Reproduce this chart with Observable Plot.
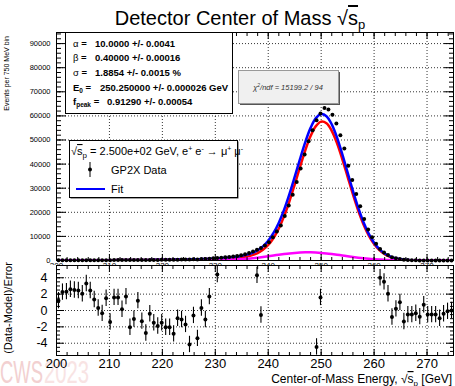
<!DOCTYPE html>
<html>
<head>
<meta charset="utf-8">
<script src="https://cdn.jsdelivr.net/npm/d3@7"></script>
<script src="https://cdn.jsdelivr.net/npm/@observablehq/plot@0.6"></script>
<style>
  body { margin: 0; background: #fff; }
  #wrap { position: relative; width: 455px; height: 386px; overflow: hidden; font-family: "Liberation Sans", Arial, sans-serif; background: #fff; }
  #wrap > svg, #wrap > .layer { position: absolute; left: 0; }
</style>
</head>
<body>
<div id="wrap"></div>
<script>
// ---------------- data ----------------
const binStart = 200;       // GeV
const binWidth = 0.75;      // GeV (750 MeV bins)

// events per bin (100 bins, 200 – 275 GeV)
const counts = [
  71, 84, 88, 96, 102, 109, 111, 130, 129, 125,
  122, 122, 151, 124, 170, 180, 171, 202, 160, 184,
  228, 203, 195, 246, 243, 250, 271, 280, 298, 302,
  361, 382, 398, 376, 487, 466, 598, 615, 753, 960,
  998, 1180, 1300, 1460, 1650, 1880, 2170, 2560, 3060, 3700,
  4413, 5237, 6200, 7600, 9600, 12000, 14500, 18500, 22800, 27300,
  32600, 38200, 44000, 49500, 54000, 58207, 60960, 63300, 62700, 60500,
  56800, 52000, 46500, 39300, 33400, 27600, 22500, 17200, 12900, 9600,
  6900, 4753, 3316, 2246, 1400, 921, 612, 351, 224, 131,
  80, 46, 34, 15, 8, 5, 2, 2, 1, 0
];

// (Data-Model)/Error per bin; null = outside the drawn range
const residuals = [
  1.2, 2.25, 2.3, 2.6, 2.5, 2.45, 2.05, 3.3, 2.45, 1.35,
  0.3, -0.35, 1.5, -1.4, 1.6, 1.6, 0.15, 1.7, -2.05, -1.05,
  1.2, -1.3, -2.75, -0.4, -1.5, -1.9, -1.5, -2.05, -2.05, -2.85,
  -0.95, -1.1, -1.7, -4.15, -0.6, -3.4, 0.3, -1.1, 1.7, null,
  4.4, null, null, null, null, null, null, null, null, null,
  4.3, -0.55, null, null, null, null, null, null, null, null,
  null, null, null, null, null, -4.45, 1.6, null, null, null,
  null, null, null, null, null, null, null, null, null, null,
  null, 4.0, 3.5, 2.05, -0.8, 0.2, 1.0, -1.35, -0.5, -0.5,
  -0.33, -0.75, 0.7, -0.5, -0.5, -0.5, -0.95, -0.4, -0.1, 0.0
];

// fit curves sampled every 1 GeV from 200 to 275
const fitEnergy = [
  200,201,202,203,204,205,206,207,208,209,
  210,211,212,213,214,215,216,217,218,219,
  220,221,222,223,224,225,226,227,228,229,
  230,231,232,233,234,235,236,237,238,239,
  240,241,242,243,244,245,246,247,248,249,
  250,251,252,253,254,255,256,257,258,259,
  260,261,262,263,264,265,266,267,268,269,
  270,271,272,273,274,275
];
const fitPeak = [   // red: main peak component
  60,65,70,77,85,92,100,110,120,130,
  140,152,165,177,190,205,220,240,260,280,
  300,325,350,380,410,450,490,540,590,655,
  726,804,893,1003,1154,1371,1704,2240,3085,4415,
  6429,9345,13306,18406,24573,31529,38802,45746,51634,55763,
  57619,56938,53805,48619,42008,34716,27429,20719,14964,10333,
  6820,4307,2599,1499,828,437,220,106,49,22,
  9,4,2,1,0,0
];
const fitSecondary = [   // magenta: secondary component
  0,0,0,0,0,0,0,0,0,0,
  0,0,0,0,0,0,0,0,0,0,
  0,1,2,4,6,10,17,27,42,64,
  96,142,207,293,406,550,728,941,1188,1465,
  1765,2078,2390,2685,2948,3161,3312,3390,3390,3312,
  3161,2948,2685,2390,2078,1765,1465,1188,941,728,
  550,406,293,207,142,96,63,40,25,15,
  9,5,3,2,1,0
];

const xTickLabels = [200, 210, 220, 230, 240, 250, 260, 270];
const xGridValues = [210, 220, 230, 240, 250, 260, 270];
const yTickLabelsTop = [0, 10000, 20000, 30000, 40000, 50000, 60000, 70000, 80000, 90000];
const yGridTop = [10000, 20000, 30000, 40000, 50000, 60000, 70000, 80000, 90000];
const yTickLabelsRes = [-4, -2, 0, 2, 4];

// ---------------- derived tables ----------------
const hist = counts.map((n, i) => ({
  E: binStart + binWidth * (i + 0.5), n, err: Math.sqrt(n), r: residuals[i]
}));
const resid = hist.filter(d => d.r !== null);
const fit = fitEnergy.map((E, i) => ({
  E, peak: fitPeak[i], sec: fitSecondary[i], total: fitPeak[i] + fitSecondary[i]
}));

const xMinor = d3.range(200, 275.01, 2);
const yMinorTop = d3.range(0, 94600, 2000);
const yMinorRes = d3.range(-5.5, 5.51, 0.5);
const blank = () => "";
const font = "Liberation Sans, Arial, sans-serif";
const gridStyle = { stroke: "#000", strokeOpacity: 1, strokeWidth: 0.8, strokeDasharray: "1,2" };

// ---------------- top panel ----------------
const topPlot = Plot.plot({
  width: 455, height: 265,
  marginLeft: 56, marginRight: 2, marginTop: 32, marginBottom: 5,
  x: { domain: [200, 275] },
  y: { domain: [0, 94600] },
  style: { fontFamily: font, background: "transparent", overflow: "hidden", color: "#000" },
  marks: [
    Plot.gridX(xGridValues, gridStyle),
    Plot.gridY(yGridTop, gridStyle),
    Plot.line(fit, { x: "E", y: "peak", stroke: "#ff0000", strokeWidth: 2.5, curve: "catmull-rom", clip: true }),
    Plot.line(fit, { x: "E", y: "total", stroke: "#0000ff", strokeWidth: 2.5, curve: "catmull-rom", clip: true }),
    Plot.line(fit, { x: "E", y: "sec", stroke: "#ff00ff", strokeWidth: 2.5, curve: "catmull-rom", clip: true }),
    Plot.ruleX(hist, { x: "E", y1: d => d.n - d.err, y2: d => d.n + d.err, stroke: "#000", strokeWidth: 1 }),
    Plot.dot(hist, { x: "E", y: "n", r: 2, fill: "#000", stroke: null }),
    Plot.frame({ stroke: "#000", strokeWidth: 1 }),
    // inward ticks
    Plot.axisY(yMinorTop, { anchor: "left", tickSize: 5, dx: 5, tickFormat: blank, label: null }),
    Plot.axisY(yTickLabelsTop, { anchor: "left", tickSize: 10, dx: 10, tickFormat: blank, label: null }),
    Plot.axisY(yMinorTop, { anchor: "right", tickSize: 5, dx: -5, tickFormat: blank, label: null }),
    Plot.axisY(yTickLabelsTop, { anchor: "right", tickSize: 10, dx: -10, tickFormat: blank, label: null }),
    Plot.axisX(xMinor, { anchor: "top", tickSize: 3, dy: 3, tickFormat: blank, label: null }),
    Plot.axisX(xTickLabels, { anchor: "top", tickSize: 6, dy: 6, tickFormat: blank, label: null }),
    Plot.axisX(xMinor, { anchor: "bottom", tickSize: 3, dy: -3, tickFormat: blank, label: null }),
    Plot.axisX(xTickLabels, { anchor: "bottom", tickSize: 6, dy: -6, tickFormat: blank, label: null }),
    // labels
    Plot.axisY(yTickLabelsTop, { anchor: "left", tickSize: 0, tickPadding: 6, fontSize: 7.5, label: null, tickFormat: d => String(d) }),
    Plot.axisX(xTickLabels, { anchor: "bottom", tickSize: 0, tickPadding: 2, fontSize: 8, label: null, tickFormat: d => String(d) })
  ]
});
topPlot.style.top = "0px";

// ---------------- residual panel ----------------
const botPlot = Plot.plot({
  width: 455, height: 122,
  marginLeft: 56, marginRight: 2, marginTop: 1, marginBottom: 31,
  x: { domain: [200, 275] },
  y: { domain: [-5.5, 5.5] },
  style: { fontFamily: font, background: "transparent", color: "#000" },
  marks: [
    Plot.gridX(xGridValues, gridStyle),
    Plot.gridY(yTickLabelsRes, gridStyle),
    Plot.ruleX(resid, { x: "E", y1: d => d.r - 1, y2: d => d.r + 1, stroke: "#000", strokeWidth: 1.1 }),
    Plot.dot(resid, { x: "E", y: "r", r: 2, fill: "#000", stroke: null }),
    Plot.frame({ stroke: "#000", strokeWidth: 1 }),
    Plot.axisY(yMinorRes, { anchor: "left", tickSize: 4, dx: 4, tickFormat: blank, label: null }),
    Plot.axisY(yTickLabelsRes, { anchor: "left", tickSize: 8, dx: 8, tickFormat: blank, label: null }),
    Plot.axisY(yMinorRes, { anchor: "right", tickSize: 4, dx: -4, tickFormat: blank, label: null }),
    Plot.axisY(yTickLabelsRes, { anchor: "right", tickSize: 8, dx: -8, tickFormat: blank, label: null }),
    Plot.axisX(xMinor, { anchor: "top", tickSize: 3, dy: 3, tickFormat: blank, label: null }),
    Plot.axisX(xTickLabels, { anchor: "top", tickSize: 6, dy: 6, tickFormat: blank, label: null }),
    Plot.axisX(xMinor, { anchor: "bottom", tickSize: 3, dy: -3, tickFormat: blank, label: null }),
    Plot.axisX(xTickLabels, { anchor: "bottom", tickSize: 6, dy: -6, tickFormat: blank, label: null }),
    Plot.axisY(yTickLabelsRes, { anchor: "left", tickSize: 0, tickPadding: 9, fontSize: 12.5, label: null, tickFormat: d => String(d) }),
    Plot.axisX(xTickLabels, { anchor: "bottom", tickSize: 0, tickPadding: 3, fontSize: 13, label: null, tickFormat: d => String(d) })
  ]
});
botPlot.style.top = "264px";

// ---------------- assemble ----------------
const wrap = document.getElementById("wrap");

// watermark (behind)
const wm = document.createElementNS("http://www.w3.org/2000/svg", "svg");
wm.setAttribute("width", 455); wm.setAttribute("height", 386);
wm.setAttribute("class", "layer");
wm.style.top = "0px";
wm.innerHTML = `
  <text x="0" y="383" font-family="Liberation Sans Narrow, Liberation Sans, sans-serif" font-size="32" fill="#f2d0d0" textLength="43" lengthAdjust="spacingAndGlyphs">CWS</text>
  <text x="44" y="383" font-family="Liberation Sans Narrow, Liberation Sans, sans-serif" font-size="32" fill="#f8e3e3" textLength="45" lengthAdjust="spacingAndGlyphs">2023</text>`;
wrap.appendChild(wm);
wrap.appendChild(topPlot);
wrap.appendChild(botPlot);

// annotations overlay
const ov = document.createElementNS("http://www.w3.org/2000/svg", "svg");
ov.setAttribute("width", 455); ov.setAttribute("height", 386);
ov.setAttribute("class", "layer");
ov.style.top = "0px";
ov.style.fontFamily = font;
ov.innerHTML = `
  <text x="240" y="25" text-anchor="middle" font-size="20" fill="#000">Detector Center of Mass √<tspan style="text-decoration:overline">s</tspan><tspan font-size="13" dy="4">p</tspan></text>

  <rect x="65.5" y="32.5" width="167" height="81" fill="#fff" stroke="#000" stroke-width="1"/>
  <g font-size="9.5" fill="#000">
    <text x="73" y="46.5">α<tspan font-weight="bold"> =</tspan><tspan x="95" font-weight="bold">10.0000 +/- 0.0041</tspan></text>
    <text x="73" y="61.2">β<tspan font-weight="bold"> =</tspan><tspan x="95" font-weight="bold">0.40000 +/- 0.00016</tspan></text>
    <text x="73" y="75.9">σ<tspan font-weight="bold"> =</tspan><tspan x="95" font-weight="bold">1.8854 +/- 0.0015 %</tspan></text>
    <text x="73" y="90.6" font-weight="bold">E<tspan font-size="6.5" dy="2">0</tspan><tspan dy="-2"> =</tspan><tspan x="100">250.250000 +/- 0.000026 GeV</tspan></text>
    <text x="73" y="105.3" font-weight="bold">f<tspan font-size="6.5" dy="2">peak</tspan><tspan dy="-2"> =</tspan><tspan x="107">0.91290 +/- 0.00054</tspan></text>
  </g>

  <rect x="240" y="72" width="100" height="33" fill="#555"/>
  <rect x="238.5" y="70.5" width="100" height="33" fill="#f0f0f0" stroke="#999" stroke-width="1"/>
  <text x="288" y="89.5" text-anchor="middle" font-size="7.5" font-style="italic" fill="#333">χ<tspan font-size="5" dy="-3">2</tspan><tspan dy="3">/ndf = 15199.2 / 94</tspan></text>

  <rect x="70.5" y="141.5" width="168" height="57" fill="#444"/>
  <rect x="69.5" y="140.5" width="168" height="57" fill="#fff" stroke="#000" stroke-width="1"/>
  <text x="71" y="155" font-size="11" fill="#000">√<tspan style="text-decoration:overline">s</tspan><tspan font-size="8" dy="3">p</tspan><tspan dy="-3"> = 2.500e+02 GeV, e</tspan><tspan font-size="7" dy="-4">+</tspan><tspan dy="4"> e</tspan><tspan font-size="7" dy="-4">-</tspan><tspan dy="4"> → μ</tspan><tspan font-size="7" dy="-4">+</tspan><tspan dy="4"> μ</tspan><tspan font-size="7" dy="-4">-</tspan></text>
  <line x1="90" x2="90" y1="162" y2="177" stroke="#000" stroke-width="1"/>
  <circle cx="90" cy="169.5" r="2" fill="#000"/>
  <text x="111" y="173.5" font-size="11" fill="#000">GP2X Data</text>
  <line x1="76" x2="105" y1="189" y2="189" stroke="#0000ff" stroke-width="2"/>
  <text x="111" y="193" font-size="11" fill="#000">Fit</text>

  <text transform="translate(9,36) rotate(-90)" text-anchor="end" font-size="7" fill="#000">Events per 750 MeV bin</text>
  <text transform="translate(12,308) rotate(-90)" text-anchor="middle" font-size="11" fill="#000">(Data-Model)/Error</text>
  <text x="452" y="383" text-anchor="end" font-size="12" fill="#000">Center-of-Mass Energy, √<tspan style="text-decoration:overline">s</tspan><tspan font-size="8" dy="3">p</tspan><tspan dy="-3"> [GeV]</tspan></text>
`;
wrap.appendChild(ov);
</script>
</body>
</html>
